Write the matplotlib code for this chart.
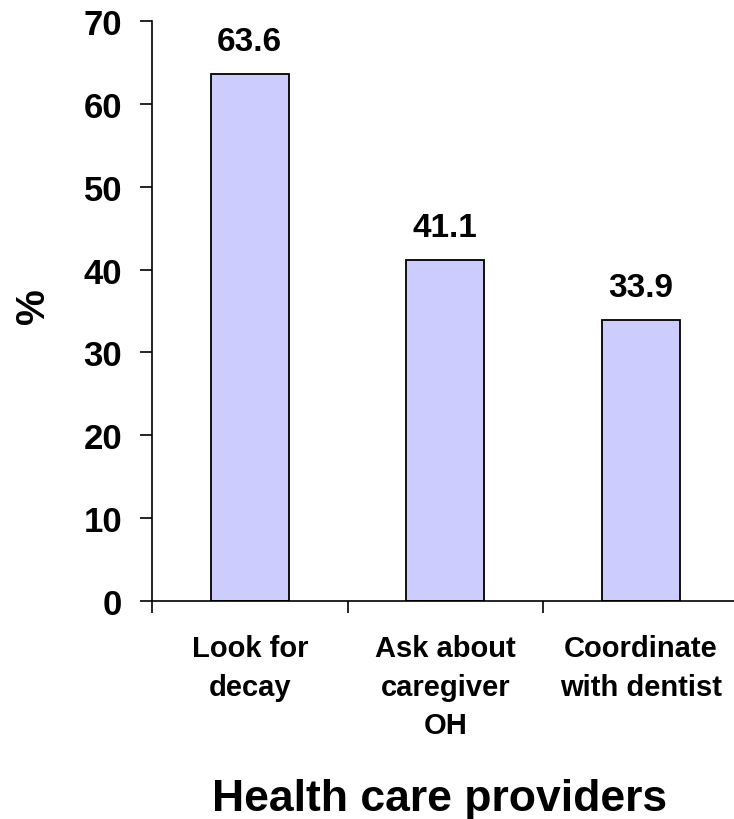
import matplotlib.pyplot as plt

categories = ["Look for\ndecay", "Ask about\ncaregiver\nOH", "Coordinate\nwith dentist"]
values = [63.6, 41.1, 33.9]
yticks = [0, 10, 20, 30, 40, 50, 60, 70]

plt.rcParams['font.family'] = ['Liberation Sans', 'DejaVu Sans']
plt.rcParams['font.weight'] = 'bold'

W, H = 734, 820
fig = plt.figure(figsize=(W / 100, H / 100), dpi=100)
# axes: x from 152 to 738.5 px, y from 22 to 602 px
ax = fig.add_axes([152 / W, (H - 602) / H, (738.5 - 152) / W, (602 - 22) / H])

centers = [i + 0.5 for i in range(len(values))]
ax.bar(centers, values, width=0.40, color='#CCCCFF', edgecolor='black', linewidth=1.3)

for c, v in zip(centers, values):
    ax.text(c, v + 2.1, f"{v:.1f}", ha='center', va='bottom', fontsize=24, fontweight='bold')

ax.set_xlim(0, 3)
ax.set_ylim(0, 70)
ax.set_yticks(yticks)
ax.tick_params(axis='y', labelsize=25, length=8.5, width=1.2, direction='out', pad=13)
ax.set_xticks([0, 1, 2, 3])
ax.set_xticklabels([])
ax.tick_params(axis='x', length=8.5, width=1.2, direction='out')
for lab in ax.get_yticklabels():
    lab.set_fontweight('bold')

for c, lab in zip(centers, categories):
    ax.text(c, -4.0, lab, ha='center', va='top', fontsize=21, fontweight='bold',
            linespacing=1.48)

ax.spines['top'].set_visible(False)
ax.spines['right'].set_visible(False)
ax.spines['left'].set_linewidth(1.2)
ax.spines['bottom'].set_linewidth(1.2)

fig.text(33 / W, (H - 306) / H, "%", rotation=90, ha='center', va='center', fontsize=29, fontweight='bold')
fig.text(440 / W, (H - 800) / H, "Health care providers", ha='center', va='center', fontsize=32, fontweight='bold')

fig.savefig("out.png", dpi=100)
